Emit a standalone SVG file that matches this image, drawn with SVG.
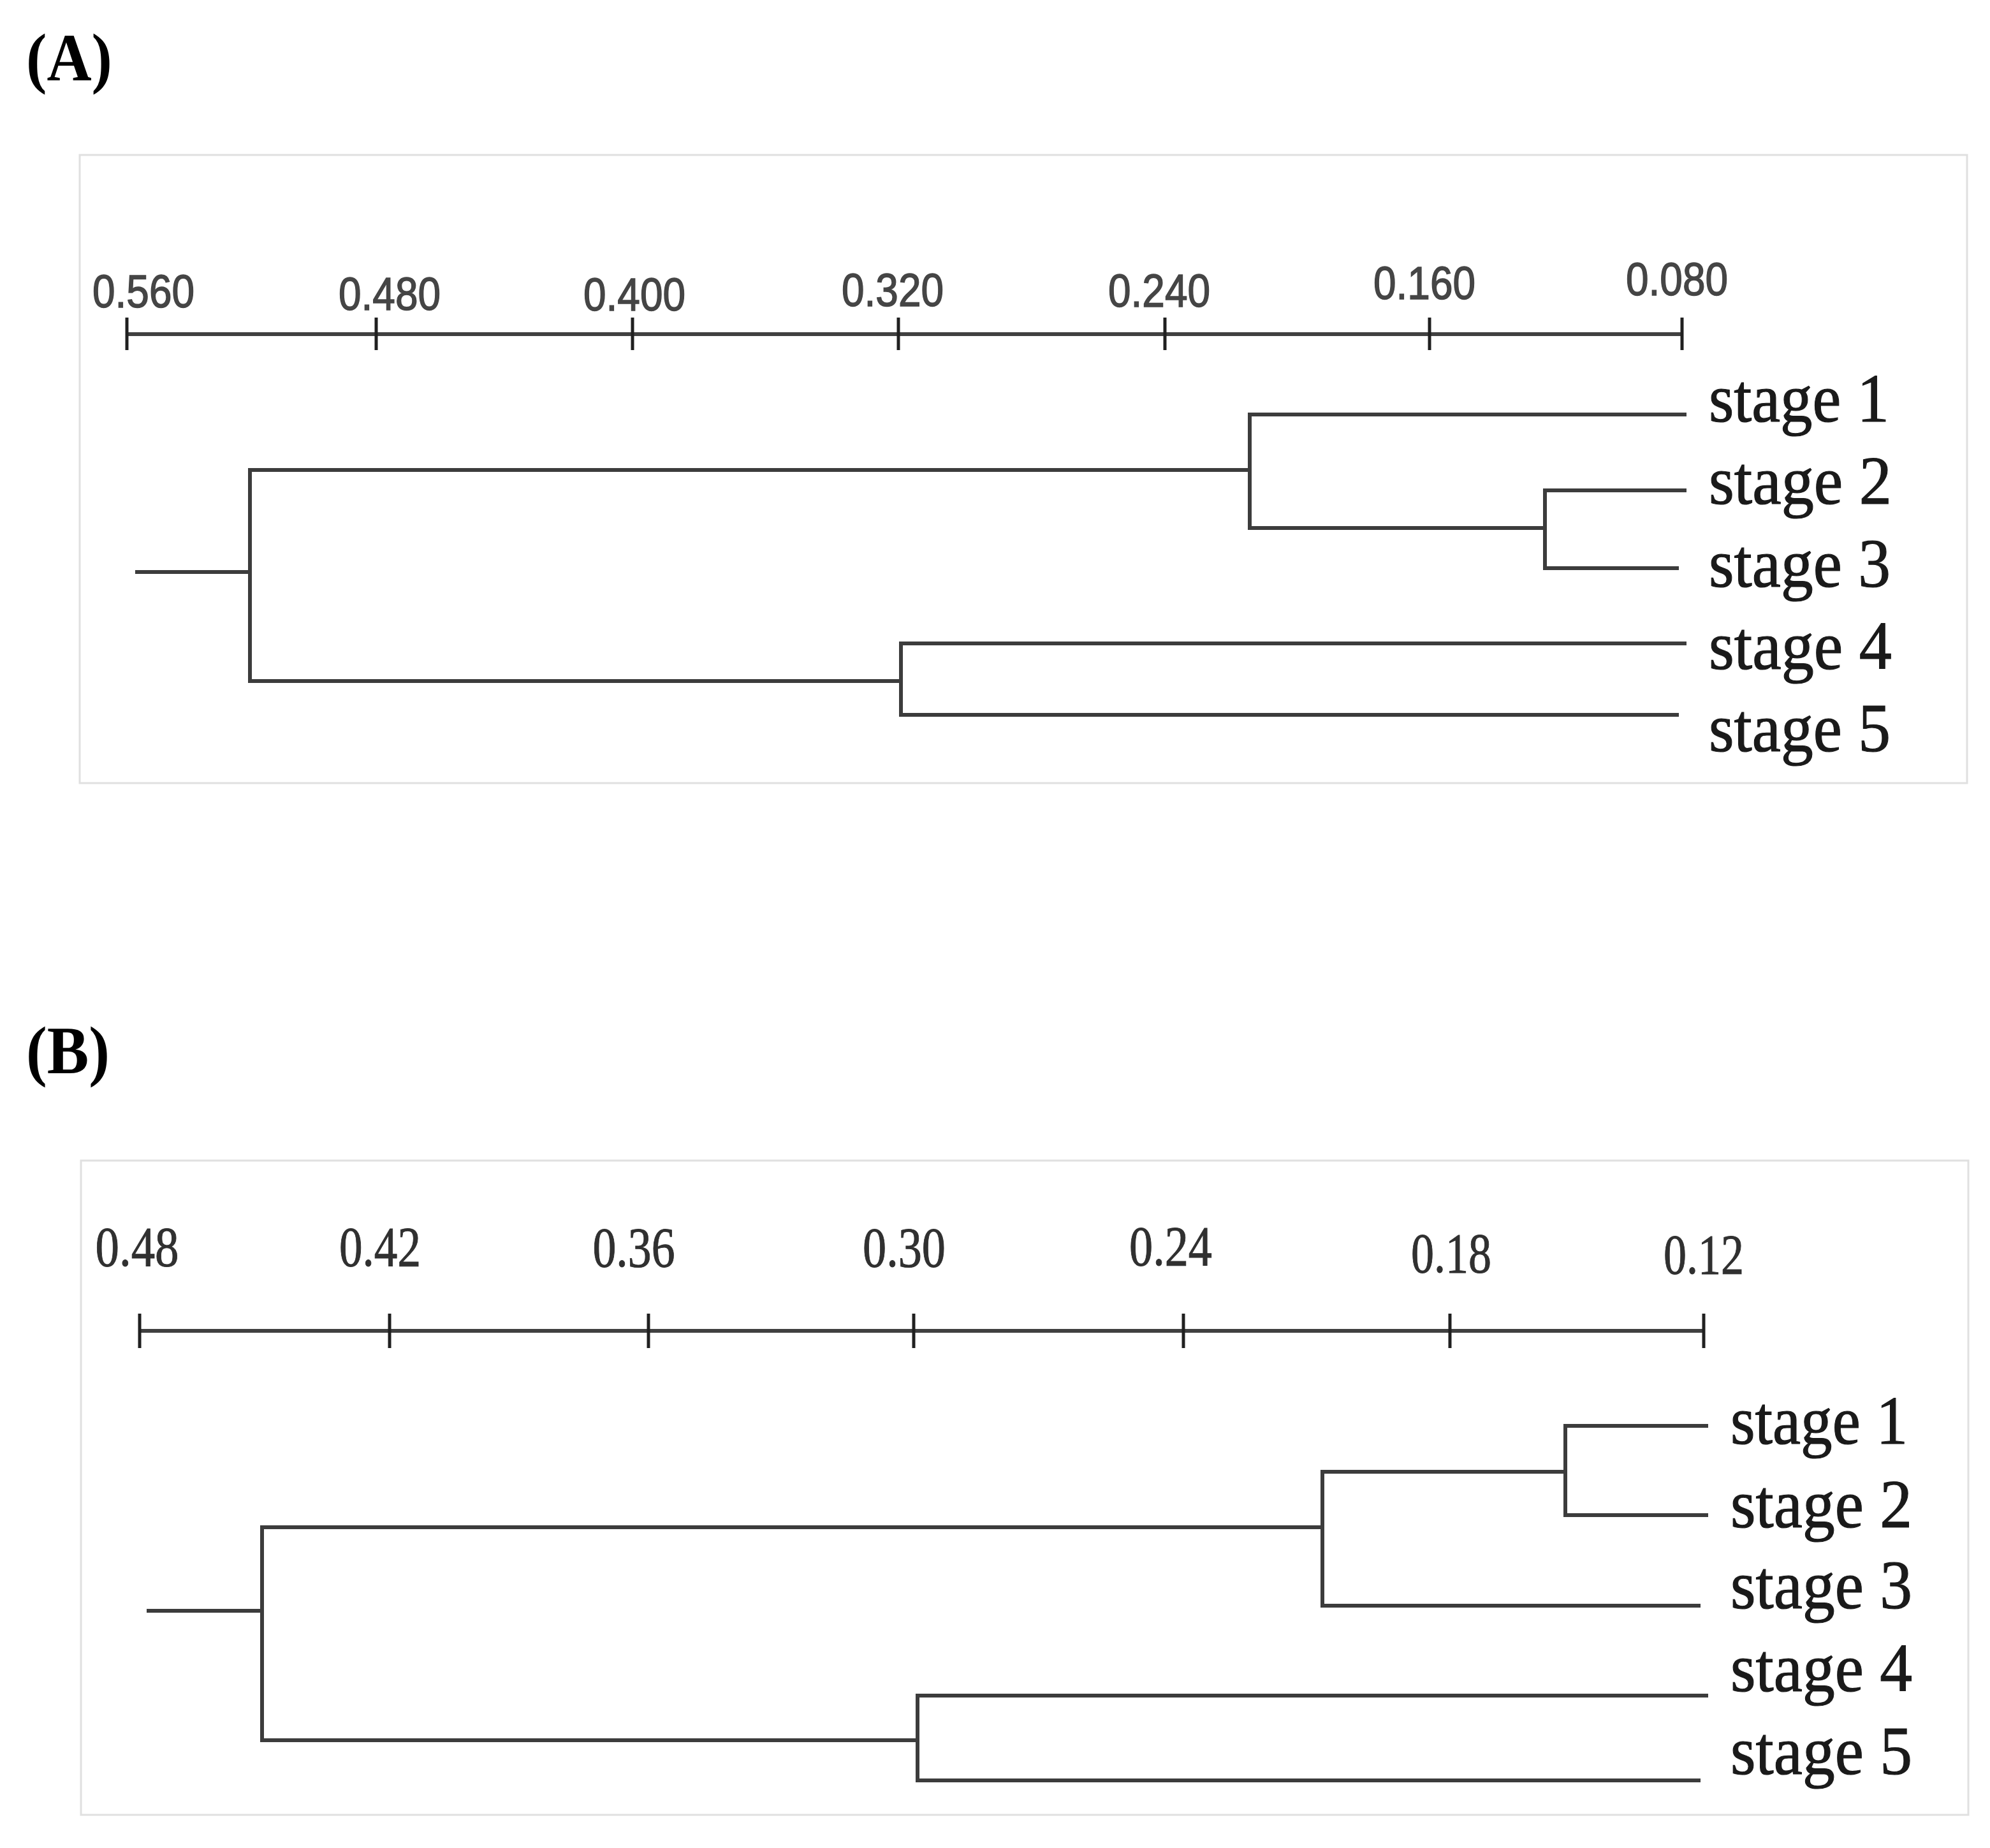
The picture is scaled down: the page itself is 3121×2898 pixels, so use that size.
<svg xmlns="http://www.w3.org/2000/svg" width="3121" height="2898" viewBox="0 0 3121 2898">
<style>
.panel{font-family:"Liberation Serif","Times New Roman",serif;font-weight:bold;font-size:106px;fill:#000}
.frame{fill:none;stroke:#e0e0e0;stroke-width:3}
.axis{stroke:#404040;stroke-width:6;fill:none}
.tick{stroke:#202020;stroke-width:5;fill:none}
.albA{font-family:"Liberation Sans",Arial,sans-serif;font-size:72px;fill:#454545;stroke:#454545;stroke-width:1.5;text-anchor:middle}
.albB{font-family:"Liberation Serif","Times New Roman",serif;font-size:88px;fill:#303030;stroke:#303030;stroke-width:1;text-anchor:middle}
.stage{font-family:"Liberation Serif","Times New Roman",serif;font-size:108px;fill:#1a1a1a;stroke:#1a1a1a;stroke-width:1.2}
.edge{stroke:#3c3c3c;stroke-width:6;fill:none;stroke-linecap:square}
</style>
<rect width="3121" height="2898" fill="#ffffff"/>

<!-- Panel A -->
<g id="panelA">
  <text class="panel" x="41" y="126" textLength="135" lengthAdjust="spacingAndGlyphs">(A)</text>
  <rect class="frame" x="125" y="243" width="2960" height="985"/>
  <g id="axisA">
    <path class="axis" d="M199,524 H2638"/>
    <path class="tick" d="M199,498 V549 M590,498 V549 M992,498 V549 M1409,498 V549 M1827,498 V549 M2242,498 V549 M2638,498 V549"/>
    <text class="albA" x="225" y="482" textLength="160" lengthAdjust="spacingAndGlyphs">0.560</text>
    <text class="albA" x="611" y="486" textLength="160" lengthAdjust="spacingAndGlyphs">0.480</text>
    <text class="albA" x="995" y="487" textLength="160" lengthAdjust="spacingAndGlyphs">0.400</text>
    <text class="albA" x="1400" y="480" textLength="160" lengthAdjust="spacingAndGlyphs">0.320</text>
    <text class="albA" x="1818" y="481" textLength="160" lengthAdjust="spacingAndGlyphs">0.240</text>
    <text class="albA" x="2234" y="469" textLength="160" lengthAdjust="spacingAndGlyphs">0.160</text>
    <text class="albA" x="2630" y="463" textLength="160" lengthAdjust="spacingAndGlyphs">0.080</text>
  </g>
  <g id="A-stage1"><text class="stage" x="2680" y="661" textLength="283" lengthAdjust="spacingAndGlyphs">stage 1</text></g>
  <g id="A-stage2"><text class="stage" x="2680" y="790" textLength="287" lengthAdjust="spacingAndGlyphs">stage 2</text></g>
  <g id="A-stage3"><text class="stage" x="2680" y="920" textLength="285" lengthAdjust="spacingAndGlyphs">stage 3</text></g>
  <g id="A-stage4"><text class="stage" x="2680" y="1049" textLength="287" lengthAdjust="spacingAndGlyphs">stage 4</text></g>
  <g id="A-stage5"><text class="stage" x="2680" y="1178" textLength="285" lengthAdjust="spacingAndGlyphs">stage 5</text></g>
</g>

<g id="connectorsA">
  <path class="edge" d="M215,897 H392"/>
  <path class="edge" d="M392,737 V1068"/>
  <path class="edge" d="M392,737 H1960"/>
  <path class="edge" d="M392,1068 H1413"/>
  <path class="edge" d="M1960,650 V828"/>
  <path class="edge" d="M1960,650 H2642"/>
  <path class="edge" d="M1960,828 H2423"/>
  <path class="edge" d="M2423,769 V891"/>
  <path class="edge" d="M2423,769 H2642"/>
  <path class="edge" d="M2423,891 H2630"/>
  <path class="edge" d="M1413,1009 V1121"/>
  <path class="edge" d="M1413,1009 H2642"/>
  <path class="edge" d="M1413,1121 H2630"/>
</g>

<!-- Panel B -->
<g id="panelB">
  <text class="panel" x="41" y="1683" textLength="131" lengthAdjust="spacingAndGlyphs">(B)</text>
  <rect class="frame" x="127" y="1820" width="2960" height="1026"/>
  <g id="axisB">
    <path class="axis" d="M219,2087 H2672"/>
    <path class="tick" d="M219,2060 V2114 M611,2060 V2114 M1017,2060 V2114 M1433,2060 V2114 M1856,2060 V2114 M2274,2060 V2114 M2672,2060 V2114"/>
    <text class="albB" x="215" y="1985" textLength="131" lengthAdjust="spacingAndGlyphs">0.48</text>
    <text class="albB" x="596" y="1985" textLength="128" lengthAdjust="spacingAndGlyphs">0.42</text>
    <text class="albB" x="994" y="1986" textLength="129" lengthAdjust="spacingAndGlyphs">0.36</text>
    <text class="albB" x="1418" y="1986" textLength="130" lengthAdjust="spacingAndGlyphs">0.30</text>
    <text class="albB" x="1836" y="1984" textLength="130" lengthAdjust="spacingAndGlyphs">0.24</text>
    <text class="albB" x="2276" y="1995" textLength="126" lengthAdjust="spacingAndGlyphs">0.18</text>
    <text class="albB" x="2672" y="1997" textLength="126" lengthAdjust="spacingAndGlyphs">0.12</text>
  </g>
  <g id="B-stage1"><text class="stage" x="2714" y="2264" textLength="278" lengthAdjust="spacingAndGlyphs">stage 1</text></g>
  <g id="B-stage2"><text class="stage" x="2714" y="2395" textLength="285" lengthAdjust="spacingAndGlyphs">stage 2</text></g>
  <g id="B-stage3"><text class="stage" x="2714" y="2522" textLength="285" lengthAdjust="spacingAndGlyphs">stage 3</text></g>
  <g id="B-stage4"><text class="stage" x="2714" y="2652" textLength="285" lengthAdjust="spacingAndGlyphs">stage 4</text></g>
  <g id="B-stage5"><text class="stage" x="2714" y="2782" textLength="285" lengthAdjust="spacingAndGlyphs">stage 5</text></g>
</g>

<g id="connectorsB">
  <path class="edge" d="M233,2526 H411"/>
  <path class="edge" d="M411,2395 V2729"/>
  <path class="edge" d="M411,2395 H2074"/>
  <path class="edge" d="M411,2729 H1439"/>
  <path class="edge" d="M2074,2308 V2518"/>
  <path class="edge" d="M2074,2308 H2455"/>
  <path class="edge" d="M2074,2518 H2664"/>
  <path class="edge" d="M2455,2236 V2376"/>
  <path class="edge" d="M2455,2236 H2676"/>
  <path class="edge" d="M2455,2376 H2676"/>
  <path class="edge" d="M1439,2659 V2792"/>
  <path class="edge" d="M1439,2659 H2676"/>
  <path class="edge" d="M1439,2792 H2664"/>
</g>
</svg>
